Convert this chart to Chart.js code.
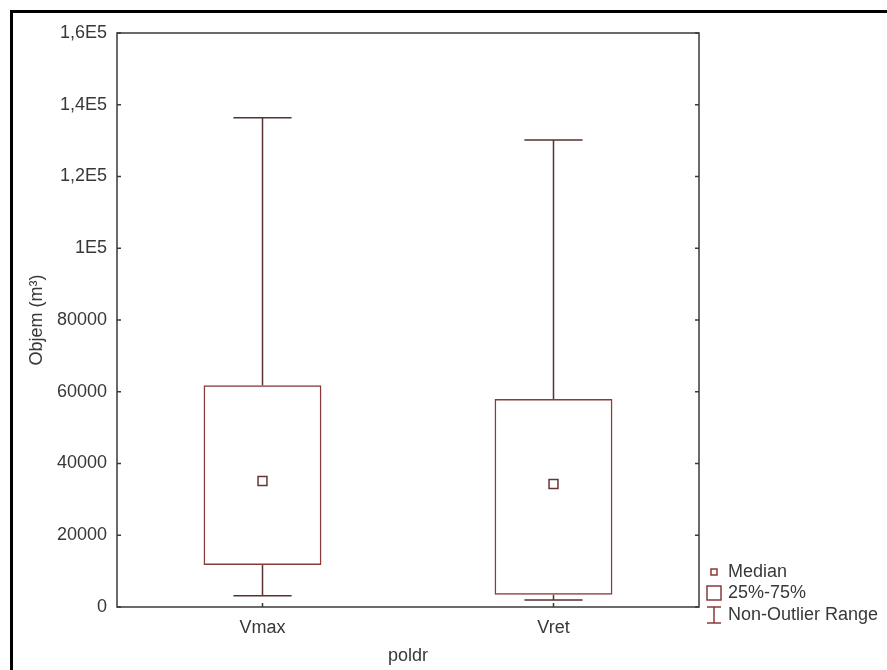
<!DOCTYPE html>
<html>
<head>
<meta charset="utf-8">
<script src="https://cdn.jsdelivr.net/npm/chart.js@4/dist/chart.umd.min.js"></script>
<style>
    html, body { margin: 0; padding: 0; background: #fff; overflow: hidden; }
    #wrap { position: relative; width: 887px; height: 670px; overflow: hidden; }
    #frame { position: absolute; left: 10px; top: 10px; width: 2000px; height: 2000px;
        border: 3px solid #000; pointer-events: none; }
    canvas { position: absolute; left: 0; top: 0; }
</style>
</head>
<body>
<div id="wrap">
    <canvas id="boxChart" width="887" height="670"></canvas>
    <div id="frame"></div>
</div>
<script>
// data
let categories = ['Vmax', 'Vret'];
let whiskerMin = [3150, 1950];
let quartile1 = [11700, 3400];
let medians = [35100, 34300];
let quartile3 = [61800, 58000];
let whiskerMax = [136400, 130200];

let yTickLabels = ['0', '20000', '40000', '60000', '80000', '1E5', '1,2E5', '1,4E5', '1,6E5'];
let legendLabels = ['Median', '25%-75%', 'Non-Outlier Range'];

let boxColor = '#8a3a3a';
let whiskerColor = '#5a3030';
let axisColor = '#3a3a3a';
let textColor = '#383838';
let fontFamily = '"Liberation Sans", Arial, sans-serif';

// whiskers, inner ticks, plot frame and the legend
let boxPlotExtras = {
    id: 'boxPlotExtras',
    afterDatasetsDraw(chart) {
        let ctx = chart.ctx;
        let x = chart.scales.x, y = chart.scales.y;
        let capHalf = (x.getPixelForValue(1) - x.getPixelForValue(0)) * 0.1;
        ctx.save();
        ctx.strokeStyle = whiskerColor;
        ctx.lineWidth = 1.5;
        for (let i = 0; i < categories.length; i++) {
            let cx = x.getPixelForValue(i);
            let yMax = y.getPixelForValue(whiskerMax[i]);
            let yMin = y.getPixelForValue(whiskerMin[i]);
            let yQ1 = y.getPixelForValue(quartile1[i]);
            let yQ3 = y.getPixelForValue(quartile3[i]);
            ctx.beginPath();
            ctx.moveTo(cx, yQ3); ctx.lineTo(cx, yMax);
            ctx.moveTo(cx - capHalf, yMax); ctx.lineTo(cx + capHalf, yMax);
            ctx.moveTo(cx, yQ1); ctx.lineTo(cx, yMin);
            ctx.moveTo(cx - capHalf, yMin); ctx.lineTo(cx + capHalf, yMin);
            ctx.stroke();
        }
        ctx.restore();
    },
    afterDraw(chart) {
        let ctx = chart.ctx;
        let a = chart.chartArea;
        let x = chart.scales.x, y = chart.scales.y;
        ctx.save();
        ctx.strokeStyle = axisColor;
        ctx.lineWidth = 1.5;
        ctx.strokeRect(a.left, a.top, a.right - a.left, a.bottom - a.top);
        ctx.beginPath();
        y.ticks.forEach((t, i) => {
            let py = y.getPixelForTick(i);
            ctx.moveTo(a.left, py); ctx.lineTo(a.left + 4, py);
            ctx.moveTo(a.right, py); ctx.lineTo(a.right - 4, py);
        });
        x.ticks.forEach((t, i) => {
            let px = x.getPixelForTick(i);
            ctx.moveTo(px, a.bottom); ctx.lineTo(px, a.bottom - 4);
        });
        ctx.stroke();

        // legend
        let lx = a.right + 8;
        let tx = a.right + 29;
        let rows = [a.bottom - 35, a.bottom - 14, a.bottom + 8];
        ctx.strokeStyle = boxColor;
        ctx.lineWidth = 1.5;
        ctx.strokeRect(lx + 4, rows[0] - 3, 6, 6);
        ctx.strokeRect(lx, rows[1] - 7, 14, 14);
        ctx.beginPath();
        ctx.moveTo(lx, rows[2] - 8); ctx.lineTo(lx + 14, rows[2] - 8);
        ctx.moveTo(lx + 7, rows[2] - 8); ctx.lineTo(lx + 7, rows[2] + 8);
        ctx.moveTo(lx, rows[2] + 8); ctx.lineTo(lx + 14, rows[2] + 8);
        ctx.stroke();
        ctx.fillStyle = textColor;
        ctx.font = '18px ' + fontFamily;
        ctx.textBaseline = 'middle';
        ctx.textAlign = 'left';
        legendLabels.forEach((label, i) => ctx.fillText(label, tx, rows[i]));
        ctx.restore();
    }
};

let canvas = document.getElementById('boxChart');
new Chart(canvas, {
    data: {
        labels: categories,
        datasets: [{
            type: 'bar',
            data: categories.map((c, i) => [quartile1[i], quartile3[i]]),
            backgroundColor: 'rgba(255,255,255,0)',
            borderColor: boxColor,
            borderWidth: 1.5,
            borderSkipped: false,
            categoryPercentage: 1,
            barPercentage: 0.405,
            order: 2
        }, {
            type: 'line',
            data: medians,
            showLine: false,
            pointStyle: 'rect',
            pointRadius: 6.3,
            pointBorderWidth: 1.5,
            pointBorderColor: '#6a3434',
            pointBackgroundColor: '#ffffff',
            order: 1
        }]
    },
    options: {
        responsive: false,
        animation: false,
        events: [],
        layout: { padding: { left: 26, right: 188, top: 33, bottom: 3 } },
        plugins: { legend: { display: false }, tooltip: { enabled: false } },
        scales: {
            x: {
                offset: true,
                grid: { display: false, drawTicks: false },
                border: { display: false },
                ticks: { color: textColor, padding: 10, font: { size: 18, family: fontFamily } },
                title: {
                    display: true, text: 'poldr', color: textColor, padding: 0,
                    font: { size: 18, family: fontFamily }
                },
                afterFit(scale) { scale.height = 60; }
            },
            y: {
                min: 0,
                max: 160000,
                grid: { display: false, drawTicks: false },
                border: { display: false },
                ticks: {
                    stepSize: 20000,
                    color: textColor,
                    padding: 10,
                    font: { size: 18, family: fontFamily },
                    callback: (v, i) => yTickLabels[i]
                },
                title: {
                    display: true, text: 'Objem (m³)', color: textColor, padding: 0,
                    font: { size: 18, family: fontFamily }
                },
                afterFit(scale) { scale.width = 91; }
            }
        }
    },
    plugins: [boxPlotExtras]
});
</script>
</body>
</html>
